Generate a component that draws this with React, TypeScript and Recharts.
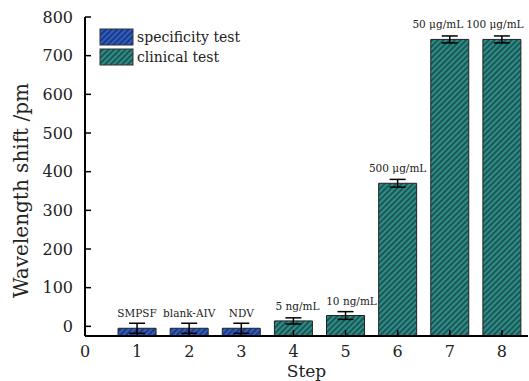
import { Bar, BarChart, Cell, ErrorBar, LabelList, Legend, XAxis, YAxis } from "recharts";

const steps = [1, 2, 3, 4, 5, 6, 7, 8];
const shifts = [-5, -5, -5, 14, 28, 370, 742, 742];
const errors = [13, 13, 13, 8, 10, 10, 9, 9];
const barLabels = ["SMPSF", "blank-AIV", "NDV", "5 ng/mL", "10 ng/mL", "500 μg/mL", "50 μg/mL", "100 μg/mL"];
const groups = ["specificity", "specificity", "specificity", "clinical", "clinical", "clinical", "clinical", "clinical"];

const yTicks = [0, 100, 200, 300, 400, 500, 600, 700, 800];
const xTicks = [0, 1, 2, 3, 4, 5, 6, 7, 8];
const yMin = -25;

// small horizontal nudges so the crowded labels on the right don't collide
const labelNudge = [0, 0, 0, 4, 6, 0, -12, -7];

const series = [
  { key: "specificity", name: "specificity test", fill: "url(#hatchBlue)" },
  { key: "clinical", name: "clinical test", fill: "url(#hatchTeal)" },
];

const data = steps.map((step, i) => ({
  step,
  range: [yMin, shifts[i]],
  err: errors[i],
  label: barLabels[i],
  group: groups[i],
}));

const FONT = "'DejaVu Serif', serif";

const YTick = (props: any) => {
  const { x, y, payload } = props;
  return (
    <g>
      <line x1={x} x2={x + 6} y1={y} y2={y} stroke="#000" strokeWidth={1.5} />
      <text x={x - 12} y={y} dy="0.36em" textAnchor="end" fontFamily={FONT} fontSize={16} fill="#222">
        {payload.value}
      </text>
    </g>
  );
};

const XTick = (props: any) => {
  const { x, y, payload } = props;
  return (
    <g>
      <line x1={x} x2={x} y1={y} y2={y - 6} stroke="#000" strokeWidth={1.5} />
      <text x={x} y={y + 21} textAnchor="middle" fontFamily={FONT} fontSize={16} fill="#222">
        {payload.value}
      </text>
    </g>
  );
};

const BarLabel = (props: any) => {
  const { x, y, width, value, index } = props;
  return (
    <text
      x={x + width / 2 + (labelNudge[index] ?? 0)}
      y={y - 11}
      textAnchor="middle"
      fontFamily={FONT}
      fontSize={10.5}
      fill="#222"
    >
      {value}
    </text>
  );
};

const LegendBox = () => (
  <svg width={180} height={44}>
    {series.map((s, i) => (
      <g key={s.key}>
        <rect x={1} y={1 + i * 20} width={33} height={16} fill={s.fill} stroke="#333" strokeWidth={1} />
        <text x={38} y={14 + i * 20} fontFamily={FONT} fontSize={14} fill="#222">
          {s.name}
        </text>
      </g>
    ))}
  </svg>
);

export default function App() {
  return (
    <div style={{ position: "absolute", left: 0, top: 0, background: "#fff" }}>
      <BarChart width={529} height={381} data={data} margin={{ top: 17, right: 1, bottom: 0, left: 0 }}>
        <defs>
          <pattern id="hatchBlue" patternUnits="userSpaceOnUse" width="4" height="4" patternTransform="rotate(45)">
            <rect width="4" height="4" fill="#2f5ec8" />
            <line x1="2" y1="0" x2="2" y2="4" stroke="#142a5e" strokeWidth="1.4" />
          </pattern>
          <pattern id="hatchTeal" patternUnits="userSpaceOnUse" width="4" height="4" patternTransform="rotate(45)">
            <rect width="4" height="4" fill="#2b8e89" />
            <line x1="2" y1="0" x2="2" y2="4" stroke="#183c3e" strokeWidth="1.4" />
          </pattern>
        </defs>
        <XAxis
          dataKey="step"
          type="number"
          domain={[0, 8.5]}
          ticks={xTicks}
          tick={<XTick />}
          tickSize={0}
          tickMargin={0}
          tickLine={false}
          axisLine={{ stroke: "#000", strokeWidth: 2 }}
          height={45}
          label={(p: any) => {
            const vb = p.viewBox;
            return (
              <text x={vb.x + vb.width / 2} y={vb.y + 41} textAnchor="middle" fontFamily={FONT} fontSize={17} fill="#222">
                Step
              </text>
            );
          }}
        />
        <XAxis
          xAxisId="top"
          orientation="top"
          type="number"
          dataKey="step"
          domain={[0, 8.5]}
          tick={false}
          tickLine={false}
          height={0}
          axisLine={{ stroke: "#000", strokeWidth: 2 }}
        />
        <YAxis
          type="number"
          domain={[yMin, 800]}
          ticks={yTicks}
          tick={<YTick />}
          tickSize={0}
          tickMargin={0}
          tickLine={false}
          width={85}
          axisLine={{ stroke: "#000", strokeWidth: 2 }}
          label={(p: any) => {
            const vb = p.viewBox;
            const cx = 28;
            const cy = vb.y + vb.height / 2 + 14;
            return (
              <text x={cx} y={cy} transform={`rotate(-90 ${cx} ${cy})`} textAnchor="middle" fontFamily={FONT} fontSize={20} fill="#222">
                Wavelength shift /pm
              </text>
            );
          }}
        />
        <Legend
          layout="horizontal"
          verticalAlign="middle"
          content={<LegendBox />}
          wrapperStyle={{ position: "absolute", top: 28, left: 99, width: 180 }}
        />
        <Bar dataKey="range" barSize={38} stroke="#222" strokeWidth={1} isAnimationActive={false}>
          {data.map((d) => (
            <Cell key={d.step} fill={series.find((s) => s.key === d.group)!.fill} />
          ))}
          <ErrorBar dataKey="err" direction="y" width={8} stroke="#000" strokeWidth={1.5} />
          <LabelList dataKey="label" content={<BarLabel />} />
        </Bar>
      </BarChart>
    </div>
  );
}
